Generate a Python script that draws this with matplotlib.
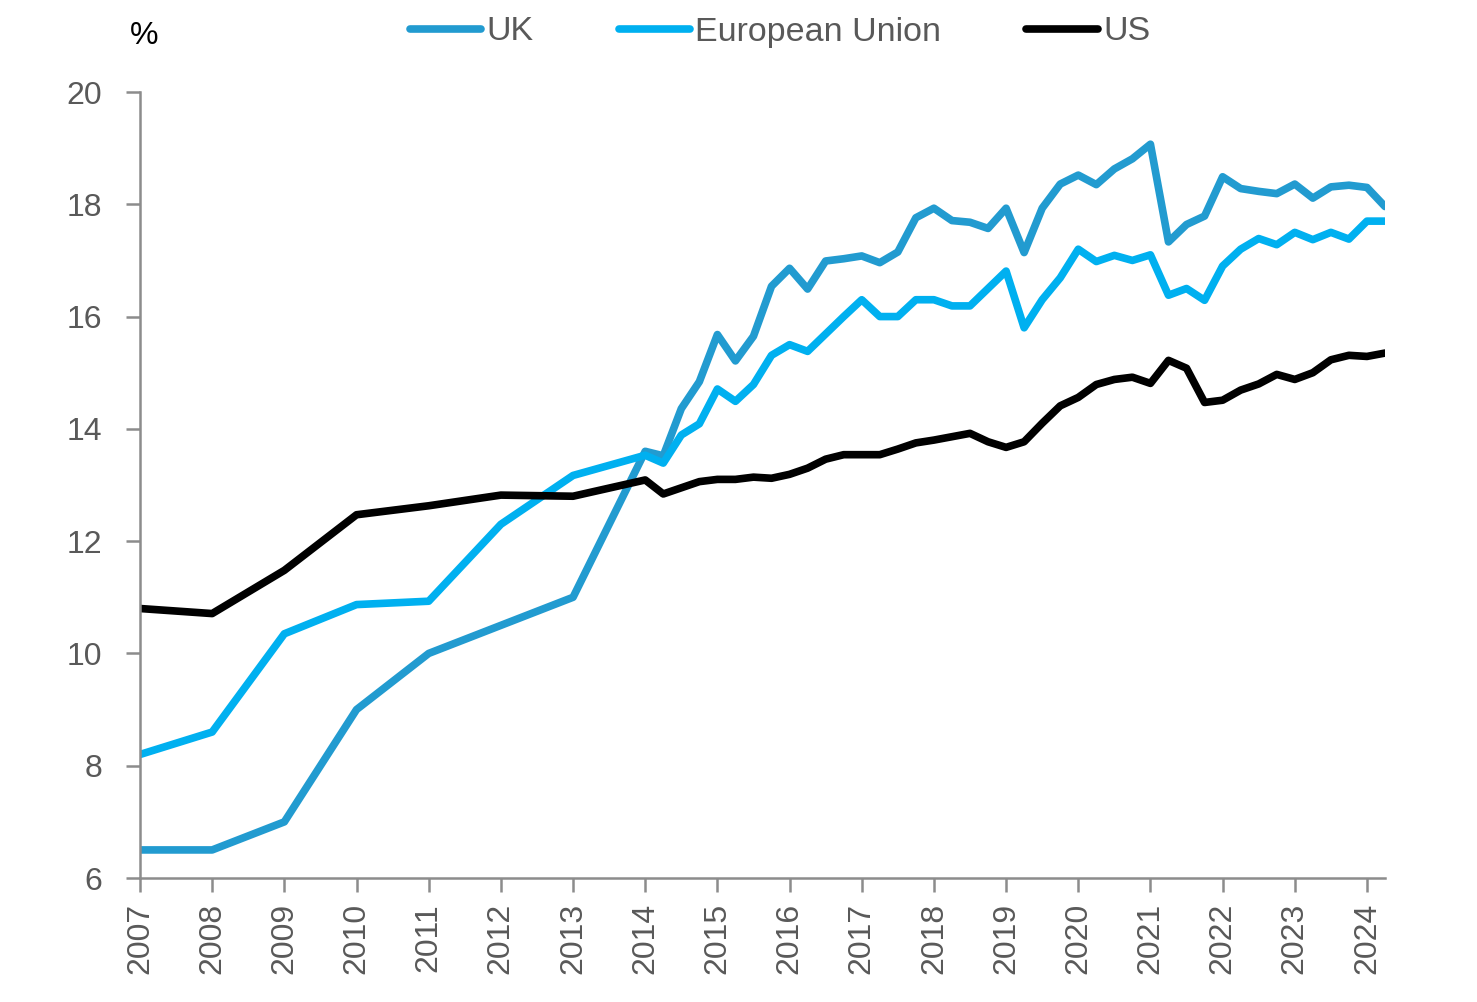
import numpy as np
import matplotlib
matplotlib.use("Agg")
import matplotlib.pyplot as plt

plt.rcParams['font.family'] = ['Liberation Sans', 'DejaVu Sans']

# annual points 2007-2013, then quarterly from 2014 to 2024 Q2
annual_years = [2007, 2008, 2009, 2010, 2011, 2012, 2013]
quarter_years = [2014 + 0.25 * i for i in range(42)]
years = annual_years + quarter_years

uk = [6.5, 6.5, 7.0, 9.0, 10.0, 10.5, 11.0,
      13.6, 13.52, 14.36, 14.84, 15.68, 15.21, 15.65, 16.54,
      16.86, 16.49, 16.99, 17.03, 17.08, 16.96, 17.15, 17.76,
      17.93, 17.71, 17.68, 17.57, 17.93, 17.14, 17.93, 18.36,
      18.52, 18.35, 18.63, 18.81, 19.07, 17.33, 17.64, 17.79,
      18.49, 18.28, 18.23, 18.19, 18.36, 18.11, 18.31, 18.34,
      18.3, 17.96]

eu = [8.2, 8.6, 10.35, 10.87, 10.93, 12.3, 13.17,
      13.53, 13.39, 13.89, 14.09, 14.71, 14.49, 14.79, 15.31,
      15.5, 15.38, 15.69, 16.0, 16.3, 16.0, 16.0, 16.3,
      16.3, 16.19, 16.19, 16.5, 16.81, 15.8, 16.3, 16.69,
      17.2, 16.98, 17.09, 17.0, 17.1, 16.38, 16.5, 16.29,
      16.9, 17.2, 17.39, 17.28, 17.5, 17.37, 17.5, 17.38,
      17.7, 17.7]

us = [10.8, 10.71, 11.48, 12.47, 12.63, 12.82, 12.8,
      13.09, 12.84, 12.95, 13.06, 13.1, 13.1, 13.14, 13.12,
      13.19, 13.3, 13.46, 13.54, 13.54, 13.54, 13.64, 13.75,
      13.8, 13.86, 13.92, 13.77, 13.67, 13.77, 14.1, 14.41,
      14.56, 14.79, 14.88, 14.92, 14.81, 15.22, 15.08, 14.47,
      14.51, 14.69, 14.8, 14.97, 14.88, 15.0, 15.23, 15.31,
      15.29, 15.35]

series = [("UK", uk, "#229BD0"), ("European Union", eu, "#00B0F0"), ("US", us, "black")]

fig = plt.figure(figsize=(14.77, 10.02), dpi=100)
ax = fig.add_axes([140 / 1477, 1 - 878 / 1002, (1385 - 140) / 1477, (878 - 92) / 1002])

for name, vals, col in series:
    ax.plot(years, vals, color=col, lw=5.5, label=name,
            solid_capstyle='round', solid_joinstyle='round')

ax.set_xlim(2007, 2024.25)
ax.set_ylim(6, 20)
ax.set_xticks(range(2007, 2025))
ax.set_xticklabels([str(y) for y in range(2007, 2025)], rotation=90)
ax.set_yticks(range(6, 21, 2))

for s in ['top', 'right']:
    ax.spines[s].set_visible(False)
for s in ['left', 'bottom']:
    ax.spines[s].set_color('#8c8c8c')
    ax.spines[s].set_linewidth(1.8)
ax.tick_params(axis='both', colors='#8c8c8c', length=10, width=1.8,
               labelsize=23, labelcolor='#595959')
ax.tick_params(axis='x', pad=8)
ax.tick_params(axis='y', pad=17)

fig.text(130 / 1477, 1 - 36 / 1002, "%", fontsize=23, color='black', va='center', ha='left')

leg = fig.legend(loc='center', bbox_to_anchor=(780 / 1477, 1 - 32 / 1002), ncol=3, frameon=False,
                 fontsize=24.5, handlelength=2.1, handletextpad=0.15, columnspacing=2.5)
for t in leg.get_texts():
    t.set_color('#595959')

fig.savefig("out.png", dpi=100)
